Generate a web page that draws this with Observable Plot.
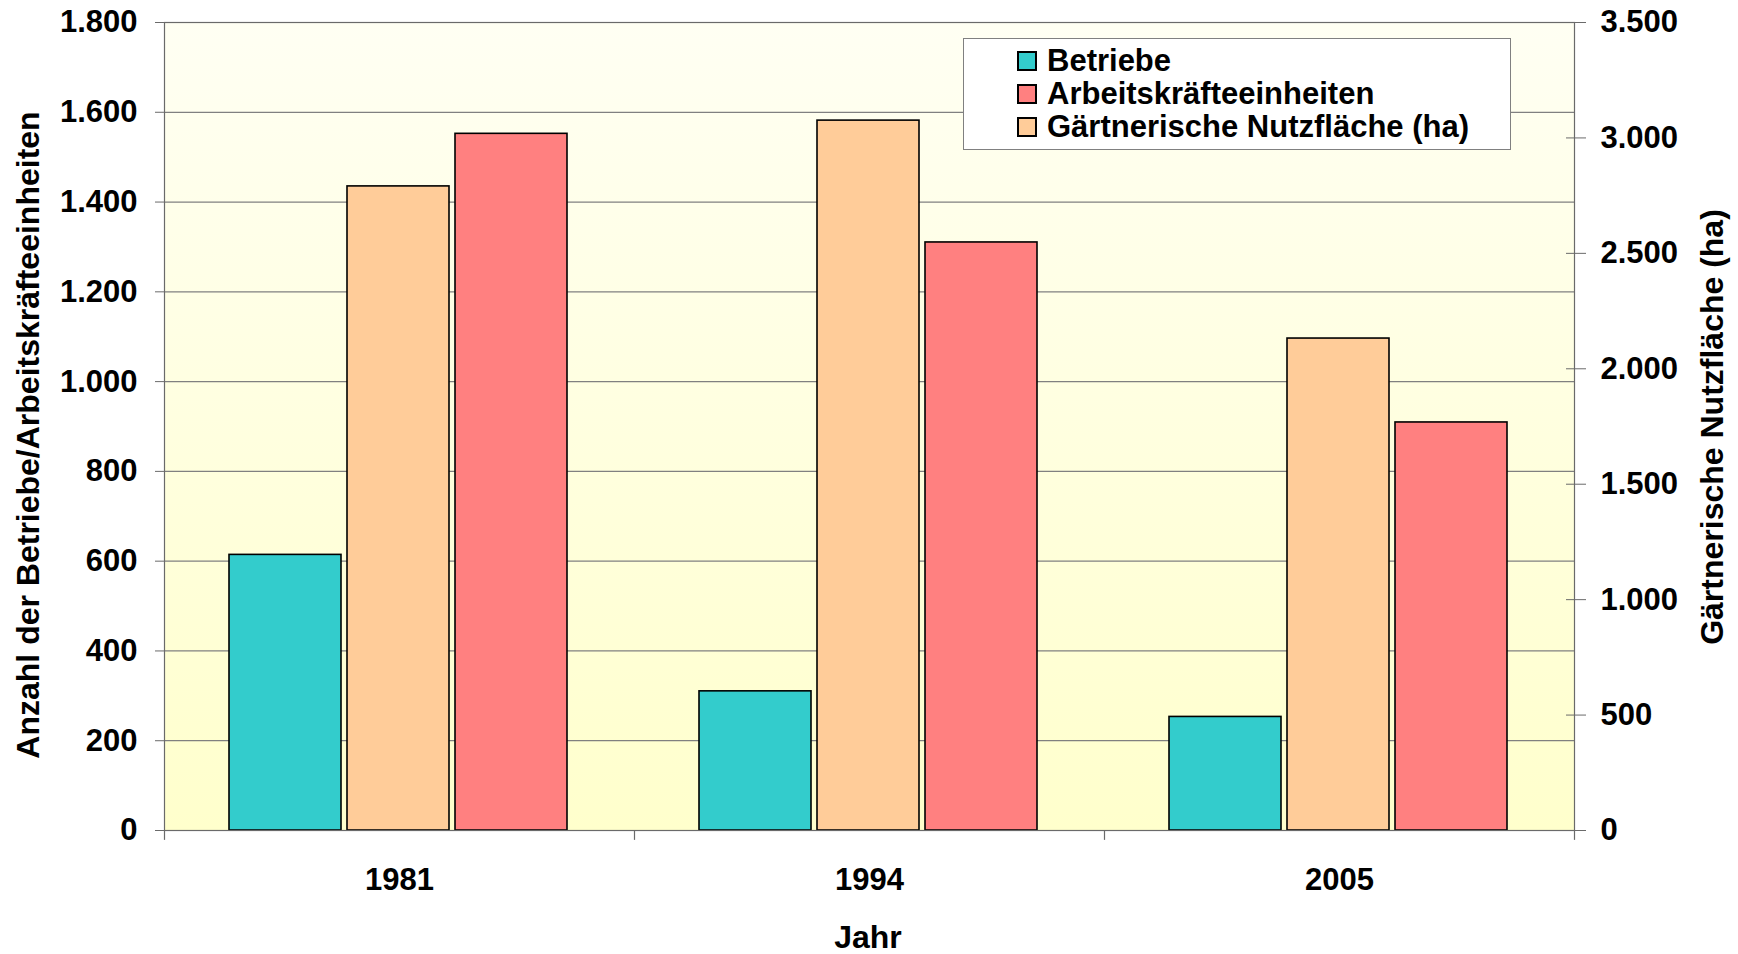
<!DOCTYPE html>
<html><head><meta charset="utf-8">
<script src="https://cdn.jsdelivr.net/npm/d3@7"></script>
<script src="https://cdn.jsdelivr.net/npm/@observablehq/plot@0.6"></script>
<style>
body{margin:0;background:#fff;font-family:"Liberation Sans",Arial,sans-serif;font-weight:bold;}
#wrap{position:relative;width:1738px;height:954px;}
#legend{position:absolute;left:963px;top:38px;width:548px;height:112px;box-sizing:border-box;background:#fff;border:1px solid #808080;padding:5px 0 0 53px;font-size:31px;color:#000;}
.row{display:flex;align-items:center;height:33px;white-space:nowrap;}
.sw{width:16px;height:16px;border:2px solid #000;margin-right:10px;flex:none;}
</style></head><body><div id="wrap"><div id="legend"></div></div>
<script>
const years = ["1981", "1994", "2005"];
const betriebe = [614, 310, 253];
const arbeitskraefte = [1552, 1310, 909];
const nutzflaeche = [2790, 3075, 2131];
const seriesNames = ["Betriebe", "Arbeitskräfteeinheiten", "Gärtnerische Nutzfläche (ha)"];
const seriesColors = ["#33CCCC", "#FF8080", "#FFCC99"];
const leftTicks = [0, 200, 400, 600, 800, 1000, 1200, 1400, 1600, 1800];
const rightTicks = [0, 500, 1000, 1500, 2000, 2500, 3000, 3500];
const leftMax = 1800, rightMax = 3500;
const k = leftMax / rightMax;

const de = d3.formatLocale({decimal: ",", thousands: ".", grouping: [3], currency: ["", " €"]});
const fmt = de.format(",d");

const table = years.map((y, i) => ({year: y, betriebe: betriebe[i], ake: arbeitskraefte[i], flaeche: nutzflaeche[i]}));
const rightPos = rightTicks.map(v => v * k);

const svg = Plot.plot({
  width: 1738, height: 954,
  marginLeft: 164, marginRight: 164, marginTop: 22, marginBottom: 124,
  style: {fontFamily: "'Liberation Sans', Arial, sans-serif", fontSize: "31px", fontWeight: "bold", background: "#fff", color: "#000", overflow: "visible"},
  x: {domain: years, padding: 0, label: null},
  y: {domain: [0, leftMax], label: null},
  marks: [
    Plot.frame({fill: "url(#bgGrad)"}),
    Plot.gridY(leftTicks, {stroke: "#808080", strokeOpacity: 1, strokeWidth: 1.2}),
    Plot.barY(table, {x: "year", y: "betriebe", fill: seriesColors[0], stroke: "#000", strokeWidth: 1.6, insetLeft: 65, insetRight: 293}),
    Plot.barY(table, {x: "year", y: d => d.flaeche * k, fill: seriesColors[2], stroke: "#000", strokeWidth: 1.6, insetLeft: 183, insetRight: 185}),
    Plot.barY(table, {x: "year", y: "ake", fill: seriesColors[1], stroke: "#000", strokeWidth: 1.6, insetLeft: 291, insetRight: 67}),
    Plot.frame({stroke: "#6a6a6a", strokeWidth: 1.2}),
    Plot.ruleX(years, {x: d => d, dx: -235, y1: 0, y2: -22, stroke: "#6a6a6a", strokeWidth: 1.2}),
    Plot.ruleX(years.slice(-1), {x: d => d, dx: 235, y1: 0, y2: -22, stroke: "#6a6a6a", strokeWidth: 1.2}),
    Plot.axisY(leftTicks, {anchor: "left", tickSize: 9, tickPadding: 18, tickFormat: fmt, label: null, stroke: "#6a6a6a"}),
    Plot.axisY(rightPos, {anchor: "right", tickSize: 20, dx: -9, tickFormat: () => "", label: null, stroke: "#6a6a6a"}),
    Plot.axisY(rightPos, {anchor: "right", tickSize: 0, tickPadding: 26, tickFormat: d => fmt(Math.round(d / k)), label: null}),
    Plot.axisX({anchor: "bottom", tickSize: 0, tickPadding: 37, label: null})
  ]
});

const NS = "http://www.w3.org/2000/svg";
const defs = document.createElementNS(NS, "defs");
defs.innerHTML = '<linearGradient id="bgGrad" x1="0" y1="0" x2="0" y2="1"><stop offset="0" stop-color="#FFFFF3"/><stop offset="1" stop-color="#FFFFCC"/></linearGradient>';
svg.insertBefore(defs, svg.firstChild);

function addText(str, x, y, rot) {
  const t = document.createElementNS(NS, "text");
  t.setAttribute("transform", `translate(${x},${y})` + (rot ? ` rotate(${rot})` : ""));
  t.setAttribute("text-anchor", "middle");
  t.setAttribute("dominant-baseline", "central");
  t.setAttribute("fill", "#000");
  t.setAttribute("font-size", "32");
  t.setAttribute("font-weight", "bold");
  t.textContent = str;
  svg.appendChild(t);
}
addText("Anzahl der Betriebe/Arbeitskräfteeinheiten", 28, 435, -90);
addText("Gärtnerische Nutzfläche (ha)", 1712, 427, -90);
addText("Jahr", 868, 937, 0);

const wrap = document.getElementById("wrap");
wrap.insertBefore(svg, wrap.firstChild);

const legend = document.getElementById("legend");
seriesNames.forEach((n, i) => {
  const r = document.createElement("div");
  r.className = "row";
  const s = document.createElement("span");
  s.className = "sw";
  s.style.background = seriesColors[i];
  r.appendChild(s);
  r.appendChild(document.createTextNode(n));
  legend.appendChild(r);
});
</script>
</body></html>
